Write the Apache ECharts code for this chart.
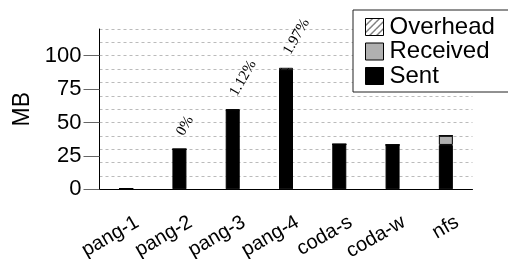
<!DOCTYPE html>
<html><head><meta charset="utf-8">
<script src="https://cdn.jsdelivr.net/npm/echarts@6/dist/echarts.min.js"></script>
<style>html,body{margin:0;padding:0;background:#fff}#c{width:508px;height:259px}</style>
</head><body><div id="c"></div>
<script>
const categories = ['pang-1','pang-2','pang-3','pang-4','coda-s','coda-w','nfs'];
const sent = [0.5, 30, 59.2, 89.2, 33.7, 33.2, 33.2];
const received = [0, 0, 0, 0, 0, 0, 6.9];
const overhead = [0, 0, 0.66, 1.76, 0, 0, 0];
const overheadLabels = ['', '0%', '1.12%', '1.97%', '', '', ''];
const yTickLabels = [0, 25, 50, 75, 100];

const pc = document.createElement('canvas');
pc.width = 7; pc.height = 7;
const g = pc.getContext('2d');
g.fillStyle = '#fff'; g.fillRect(0,0,7,7);
g.strokeStyle = '#000'; g.lineWidth = 1;
g.beginPath(); g.moveTo(-1,8); g.lineTo(8,-1); g.stroke();

const font = "'Liberation Sans', Arial, sans-serif";
const chart = echarts.init(document.getElementById('c'));
chart.setOption({
  animation: false,
  textStyle: {fontFamily: font},
  grid: {left: 99.5, right: 35.5, top: 29, bottom: 69.7, containLabel: false, outerBoundsMode: 'none'},
  legend: {
    orient: 'vertical', left: 353, top: 10, icon: 'rect',
    data: ['Overhead','Received','Sent'],
    backgroundColor: '#fff', borderColor: '#222', borderWidth: 1,
    padding: [5, 14, 4, 12], itemWidth: 18, itemHeight: 17, itemGap: 0.5,
    textStyle: {fontFamily: font, fontSize: 24, color: '#000', padding: [0,0,0,1]},
    itemStyle: {borderColor: '#000', borderWidth: 1}
  },
  xAxis: {
    type: 'category', data: categories,
    axisLine: {lineStyle: {color: '#000', width: 1}},
    axisTick: {alignWithLabel: true, length: 16, lineStyle: {color: '#666'}},
    axisLabel: {rotate: 30, margin: 8, align: 'right', verticalAlign: 'top', padding: [16,2,0,0],
      fontSize: 20, color: '#000', fontFamily: font, interval: 0}
  },
  yAxis: [{
    type: 'value', min: 0, max: 120, interval: 10, position: 'left',
    axisLine: {show: false}, axisTick: {show: false}, axisLabel: {show: false},
    splitLine: {show: true, lineStyle: {color: '#bbb', type: [3,3], width: 1}}
  }, {
    type: 'value', min: 0, max: 120, interval: 5, position: 'left', offset: 0,
    name: 'MB', nameLocation: 'middle', nameGap: 59, nameRotate: 90,
    nameTextStyle: {fontSize: 23, color: '#000', fontFamily: font},
    axisLine: {show: true, lineStyle: {color: '#000', width: 1}},
    axisTick: {show: true, length: 16, customValues: yTickLabels, lineStyle: {color: '#666'}},
    axisLabel: {customValues: yTickLabels, margin: 18, fontSize: 22, color: '#000', fontFamily: font},
    splitLine: {show: false}
  }],
  series: [
    {name: 'Sent', type: 'bar', stack: 's', data: sent, barWidth: 14,
      itemStyle: {color: '#000', borderColor: '#000', borderWidth: 1}},
    {name: 'Received', type: 'bar', stack: 's', data: received, barWidth: 14,
      itemStyle: {color: '#b0b0b0', borderColor: '#000', borderWidth: 1}},
    {name: 'Overhead', type: 'bar', stack: 's', data: overhead, barWidth: 14,
      itemStyle: {color: {image: pc, repeat: 'repeat'}, borderColor: '#000', borderWidth: 1},
      label: {show: true, position: 'top', distance: 13, rotate: 60, align: 'left', verticalAlign: 'middle',
        offset: [1.5, 0], fontFamily: "'Liberation Serif', 'Times New Roman', serif", fontSize: 15, color: '#000',
        formatter: p => overheadLabels[p.dataIndex]}}
  ]
});
</script></body></html>
